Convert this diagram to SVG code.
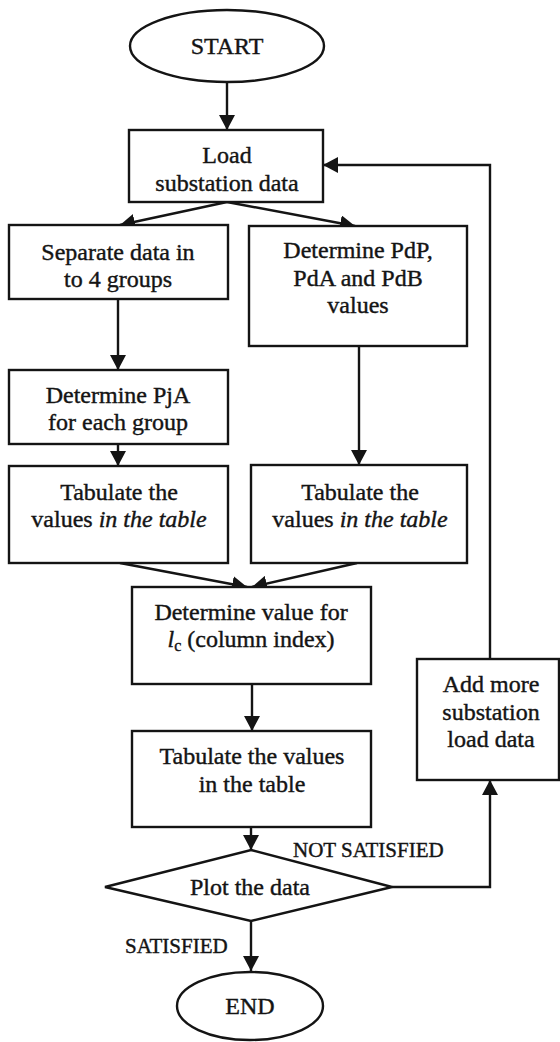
<svg xmlns="http://www.w3.org/2000/svg" width="560" height="1042" viewBox="0 0 560 1042">
<style>
  .box { fill: #ffffff; stroke: #141414; stroke-width: 2.4; }
  text { font-family: 'Liberation Serif', 'DejaVu Serif', serif; fill: #141414; stroke: #141414; stroke-width: 0.4; }
  .t { font-size: 24px; text-anchor: middle; }
  .lbl { font-size: 21px; }
  .it { font-style: italic; }
  .conn { fill: none; stroke: #141414; stroke-width: 2.4; }
</style>
<defs>
  <marker id="arr" markerUnits="userSpaceOnUse" viewBox="0 0 15 16" refX="15" refY="8" markerWidth="15" markerHeight="16" orient="auto">
    <path d="M0,0 L15,8 L0,16 z" fill="#141414"/>
  </marker>
</defs>
<rect x="0" y="0" width="560" height="1042" fill="#ffffff"/>

<g id="connectors">
  <line class="conn" x1="227" y1="82" x2="227" y2="130" marker-end="url(#arr)"/>
  <line class="conn" x1="227" y1="202" x2="120" y2="225" marker-end="url(#arr)"/>
  <line class="conn" x1="227" y1="202" x2="355" y2="226" marker-end="url(#arr)"/>
  <line class="conn" x1="118" y1="299" x2="118" y2="370" marker-end="url(#arr)"/>
  <line class="conn" x1="118" y1="444" x2="118" y2="466" marker-end="url(#arr)"/>
  <line class="conn" x1="359" y1="346" x2="359" y2="465" marker-end="url(#arr)"/>
  <line class="conn" x1="120" y1="563" x2="247" y2="587" marker-end="url(#arr)"/>
  <line class="conn" x1="357" y1="563" x2="252" y2="587" marker-end="url(#arr)"/>
  <line class="conn" x1="252" y1="684" x2="252" y2="731" marker-end="url(#arr)"/>
  <line class="conn" x1="251" y1="827" x2="251" y2="850" marker-end="url(#arr)"/>
  <line class="conn" x1="251" y1="921" x2="251" y2="971" marker-end="url(#arr)"/>
  <polyline class="conn" points="392,887 490,887 490,780" marker-end="url(#arr)"/>
  <polyline class="conn" points="490,659 490,165 323,165" marker-end="url(#arr)"/>
</g>

<g id="start">
  <ellipse class="box" cx="227" cy="46" rx="97" ry="36"/>
  <text class="t" x="227" y="54">START</text>
</g>

<g id="load">
  <rect class="box" x="129" y="130" width="194" height="72"/>
  <text class="t" x="227" y="163">Load</text>
  <text class="t" x="227" y="191">substation data</text>
</g>

<g id="separate">
  <rect class="box" x="9" y="225" width="219" height="74"/>
  <text class="t" x="118" y="260">Separate data in</text>
  <text class="t" x="118" y="287">to 4 groups</text>
</g>

<g id="pdp">
  <rect class="box" x="249" y="226" width="218" height="120"/>
  <text class="t" x="358" y="258">Determine PdP,</text>
  <text class="t" x="358" y="286">PdA and PdB</text>
  <text class="t" x="358" y="313">values</text>
</g>

<g id="pja">
  <rect class="box" x="9" y="370" width="219" height="74"/>
  <text class="t" x="118" y="403">Determine PjA</text>
  <text class="t" x="118" y="430">for each group</text>
</g>

<g id="tab-left">
  <rect class="box" x="9" y="466" width="219" height="97"/>
  <text class="t" x="119" y="500">Tabulate the</text>
  <text class="t" x="119" y="527">values <tspan class="it">in the table</tspan></text>
</g>

<g id="tab-right">
  <rect class="box" x="251" y="465" width="216" height="98"/>
  <text class="t" x="360" y="500">Tabulate the</text>
  <text class="t" x="360" y="527">values <tspan class="it">in the table</tspan></text>
</g>

<g id="lc">
  <rect class="box" x="132" y="587" width="239" height="97"/>
  <text class="t" x="251" y="620">Determine value for</text>
  <text class="t" x="251" y="647"><tspan class="it">l</tspan><tspan font-size="16" dy="4">c</tspan><tspan dy="-4"> (column index)</tspan></text>
</g>

<g id="tab-values">
  <rect class="box" x="132" y="731" width="239" height="96"/>
  <text class="t" x="252" y="764">Tabulate the values</text>
  <text class="t" x="252" y="792">in the table</text>
</g>

<g id="add-more">
  <rect class="box" x="417" y="659" width="142" height="121"/>
  <text class="t" x="491" y="692">Add more</text>
  <text class="t" x="491" y="720">substation</text>
  <text class="t" x="491" y="747">load data</text>
</g>

<g id="plot">
  <polygon class="box" points="251,850 392,887 251,921 105,887"/>
  <text class="t" x="250" y="895">Plot the data</text>
</g>

<g id="end">
  <ellipse class="box" cx="250" cy="1006" rx="73" ry="34"/>
  <text class="t" x="250" y="1014">END</text>
</g>

<g id="labels">
  <text class="lbl" x="293" y="857">NOT SATISFIED</text>
  <text class="lbl" x="125" y="953">SATISFIED</text>
</g>
</svg>
